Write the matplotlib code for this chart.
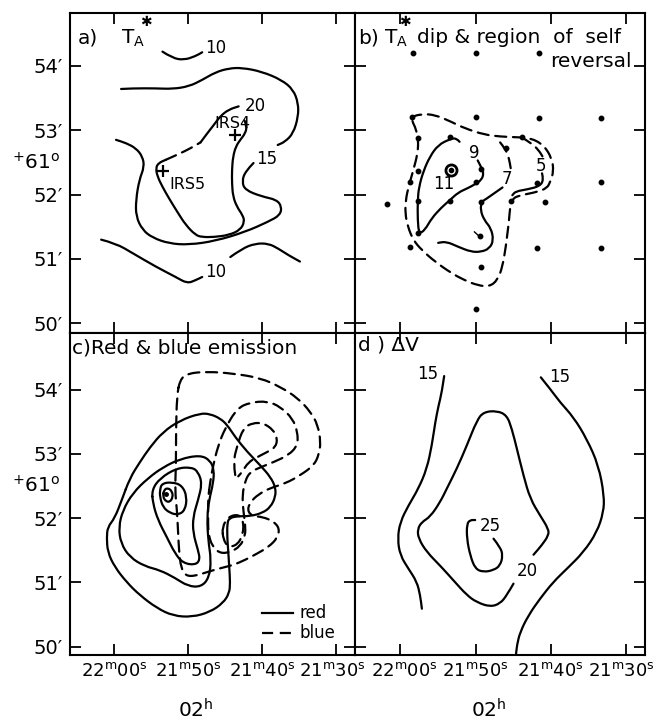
import matplotlib
matplotlib.use("Agg")
import matplotlib.pyplot as plt
from matplotlib.path import Path
from matplotlib.patches import PathPatch
from matplotlib.transforms import blended_transform_factory, ScaledTranslation

plt.rcParams['font.family'] = ['DejaVu Sans']
plt.rcParams['mathtext.fontset'] = 'dejavusans'

# Axes: RA in seconds after 02h21m (60 = 22m00s), Dec in arcmin after +61 deg
ra_ticks = [60, 50, 40, 30]
ra_labels = ["22$^{\\rm m}$00$^{\\rm s}$", "21$^{\\rm m}$50$^{\\rm s}$",
             "21$^{\\rm m}$40$^{\\rm s}$", "21$^{\\rm m}$30$^{\\rm s}$"]
dec_ticks = [50, 51, 52, 53, 54]
dec_labels = ["50\u2032", "51\u2032", "52\u2032", "53\u2032", "54\u2032"]

# ---------------- a) T_A* ----------------
a_10n_ra = [53.51, 52.17, 50.60, 49.04, 48.14]
a_10n_dec = [54.22, 54.12, 54.09, 54.15, 54.21]
a_15top_ra = [59.10, 57.54, 54.41, 52.17, 49.93, 48.14, 46.35, 44.56, 42.77, 40.09,
              37.40, 35.84, 35.17, 35.17, 35.84, 36.96, 37.94]
a_15top_dec = [53.64, 53.65, 53.65, 53.64, 53.68, 53.78, 53.90, 53.96, 53.97, 53.91,
               53.78, 53.63, 53.42, 53.21, 52.95, 52.82, 52.77]
a_15low_ra = [41.21, 42.33, 42.77, 42.33, 40.09, 38.08, 37.40, 37.63, 39.19, 42.33,
              46.35, 49.93, 52.62, 54.85, 56.20, 57.09, 57.09, 56.64, 55.97, 56.20,
              57.09, 58.43, 59.78]
a_15low_dec = [52.49, 52.36, 52.20, 52.07, 51.97, 51.92, 51.81, 51.68, 51.58, 51.42,
               51.28, 51.22, 51.24, 51.33, 51.45, 51.66, 51.92, 52.23, 52.43, 52.59,
               52.72, 52.80, 52.85]
a_20_ra = [42.42, 42.10, 42.33, 43.00, 43.58, 43.98, 44.12, 44.12, 43.98, 43.45,
           42.68, 42.42, 43.00, 44.56, 46.58, 48.14, 49.04, 50.38, 51.50, 52.62,
           53.51, 54.18, 54.41, 54.05, 53.06]
a_20_dec = [53.15, 53.06, 52.95, 52.85, 52.75, 52.59, 52.38, 52.18, 51.97, 51.81,
            51.68, 51.58, 51.45, 51.37, 51.34, 51.34, 51.37, 51.53, 51.73, 51.94,
            52.12, 52.28, 52.41, 52.49, 52.54]
a_20dash_ra = [53.06, 51.28, 49.71, 48.37]
a_20dash_dec = [52.54, 52.63, 52.72, 52.81]
a_20up_ra = [48.37, 47.47, 46.58, 45.68, 44.56, 43.22]
a_20up_dec = [52.81, 52.95, 53.08, 53.22, 53.32, 53.37]
a_10sw_ra = [61.79, 59.78, 57.54, 54.41, 51.72, 50.16, 49.04, 48.14]
a_10sw_dec = [51.30, 51.24, 51.09, 50.88, 50.72, 50.62, 50.67, 50.72]
a_10se_ra = [44.34, 42.77, 40.98, 39.19, 37.85, 36.51, 34.94]
a_10se_dec = [51.03, 51.16, 51.24, 51.24, 51.16, 51.06, 50.96]
a_levels = ["10", "10", "15", "20"]
a_level_ra = [46.35, 46.26, 39.42, 40.98]
a_level_dec = [54.27, 50.80, 52.56, 53.38]
irs_names = ["IRS4", "IRS5"]
irs_ra = [43.76, 53.38]
irs_dec = [52.93, 52.36]
irs_label_ra = [44.10, 50.16]
irs_label_dec = [53.10, 52.15]

# ---------------- b) T_A* dip & region of self reversal ----------------
b_dot_ra = [58.25, 49.93, 41.60, 58.47, 49.93, 41.60, 33.28, 57.59, 53.43, 43.79,
            45.98, 57.59, 49.27, 41.82, 58.69, 49.93, 33.28, 61.75, 57.59, 53.43,
            49.27, 45.33, 40.73, 57.59, 49.36, 58.69, 41.82, 33.28, 49.27, 49.93]
b_dot_dec = [54.20, 54.20, 54.20, 53.21, 53.21, 53.19, 53.19, 52.88, 52.89, 52.89,
             52.72, 52.37, 52.39, 52.18, 52.19, 52.20, 52.19, 51.86, 51.90, 51.90,
             51.89, 51.90, 51.89, 51.40, 51.35, 51.19, 51.17, 51.17, 50.88, 50.22]
b_peak_ra = [53.21]
b_peak_dec = [52.38]
b_rev_ra = [58.47, 57.15, 55.40, 53.21, 51.46, 48.83, 46.64, 44.45, 42.70, 40.95,
            39.85, 39.63, 40.07, 40.51, 41.82, 44.01, 45.11, 45.41, 45.55, 45.76,
            45.98, 46.42, 47.08, 48.17, 49.71, 51.46, 53.21, 55.40, 57.15, 58.25,
            58.99, 59.34, 59.26, 58.90, 58.25, 57.68, 57.59, 57.94, 58.38]
b_rev_dec = [53.21, 53.25, 53.24, 53.13, 53.03, 52.93, 52.90, 52.89, 52.88, 52.77,
             52.56, 52.36, 52.20, 52.10, 52.04, 51.99, 51.94, 51.81, 51.60, 51.40,
             51.19, 50.88, 50.67, 50.57, 50.59, 50.67, 50.78, 50.96, 51.14, 51.29,
             51.50, 51.71, 51.92, 52.12, 52.38, 52.64, 52.85, 53.03, 53.13]
b_5dash_ra = [43.92, 42.70, 41.60, 40.95]
b_5dash_dec = [52.89, 52.81, 52.69, 52.56]
b_5_ra = [41.17, 40.95, 41.47, 43.14, 44.67, 45.11]
b_5_dec = [52.33, 52.23, 52.13, 52.08, 52.05, 51.99]
b_7dash_ra = [46.73, 45.98, 45.55, 45.33]
b_7dash_dec = [52.81, 52.70, 52.56, 52.41]
b_7_ra = [46.42, 47.52, 48.61, 49.18, 49.36, 48.83, 47.95, 47.60, 48.17, 49.27,
          50.58, 52.33, 53.87, 54.96]
b_7_dec = [52.11, 52.02, 51.93, 51.89, 51.76, 51.60, 51.48, 51.29, 51.16, 51.11,
           51.11, 51.19, 51.27, 51.25]
b_9_ra = [52.12, 52.55, 53.43, 54.96, 56.06, 56.93, 57.50, 57.68, 57.68, 57.50,
          56.71, 55.84, 54.52, 53.43, 52.33, 51.02, 50.06, 49.18, 48.92, 49.18, 49.71]
b_9_dec = [52.82, 52.88, 52.86, 52.77, 52.59, 52.36, 52.12, 51.92, 51.60, 51.39,
           51.45, 51.63, 51.80, 51.91, 52.03, 52.10, 52.16, 52.23, 52.33, 52.41, 52.53]
b_tick_ra = [50.14, 49.49]
b_tick_dec = [51.42, 51.35]
b_levels = ["11", "9", "7", "5"]
b_level_ra = [54.17, 50.14, 45.85, 41.30]
b_level_dec = [52.16, 52.65, 52.24, 52.45]

# ---------------- c) Red & blue emission ----------------
c_r1_ra = [57.92, 56.57, 55.21, 53.45, 51.14, 48.43, 47.07, 45.71, 44.76, 43.68,
           42.05, 40.28, 38.92, 38.24, 38.24, 38.92, 40.01, 41.64, 43.41, 44.49,
           44.76, 44.76, 44.63, 44.49, 44.36, 44.49, 45.31, 47.07, 49.51, 52.09,
           54.26, 56.57, 58.33, 59.96, 60.91, 61.04, 60.91, 59.96, 59.01]
c_r1_dec = [52.62, 52.87, 53.10, 53.34, 53.52, 53.63, 53.62, 53.55, 53.45, 53.26,
            53.03, 52.82, 52.64, 52.48, 52.33, 52.17, 52.08, 52.03, 52.03, 52.00,
            51.92, 51.70, 51.50, 51.24, 50.99, 50.83, 50.68, 50.54, 50.46, 50.48,
            50.60, 50.80, 51.00, 51.24, 51.47, 51.70, 51.86, 52.00, 52.28]
c_r2_ra = [48.43, 47.07, 46.53, 46.66, 47.21, 47.48, 47.34, 46.93, 47.21, 48.29,
           50.05, 51.82, 53.85, 55.89, 57.92, 59.14, 59.42, 58.87, 57.52, 55.48,
           53.45, 51.14]
c_r2_dec = [52.98, 52.90, 52.75, 52.54, 52.28, 52.02, 51.66, 51.35, 51.07, 50.93,
            50.94, 51.07, 51.19, 51.25, 51.39, 51.61, 51.86, 52.12, 52.39, 52.62,
            52.79, 52.92]
c_r3_ra = [54.94, 53.85, 51.55, 49.51, 48.70, 48.15, 48.70, 49.38, 49.38, 48.70,
           48.43, 49.10, 50.73, 51.82, 52.90, 54.12, 54.80]
c_r3_dec = [52.44, 52.62, 52.78, 52.79, 52.72, 52.54, 52.28, 52.02, 51.77, 51.50,
            51.35, 51.27, 51.30, 51.45, 51.70, 51.97, 52.23]
c_r4_ra = [53.85, 53.58, 52.23, 50.87, 50.19, 50.46, 51.41, 52.50, 53.45, 53.85]
c_r4_dec = [52.44, 52.54, 52.56, 52.51, 52.33, 52.12, 52.05, 52.08, 52.17, 52.33]
c_r5_ra = [53.31, 52.77, 52.23, 52.09, 52.50, 53.04, 53.45]
c_r5_dec = [52.44, 52.47, 52.42, 52.33, 52.25, 52.26, 52.33]
c_peak_ra = [53.04]
c_peak_dec = [52.37]
c_b1_ra = [51.14, 50.19, 47.48, 43.95, 40.28, 37.56, 35.25, 33.48, 32.53, 32.12,
           32.39, 33.07, 34.84, 36.88, 38.92, 40.55, 41.64, 42.05, 41.37, 40.01,
           38.52, 37.70, 37.97, 39.19, 40.69, 42.32, 43.95, 45.71, 47.48, 49.10,
           50.33, 51.00, 51.28, 51.41, 51.55, 51.82, 51.68, 51.68, 51.55]
c_b1_dec = [54.15, 54.25, 54.28, 54.25, 54.18, 54.04, 53.87, 53.65, 53.45, 53.18,
            52.98, 52.82, 52.67, 52.54, 52.47, 52.37, 52.25, 52.12, 52.03, 52.02,
            51.95, 51.84, 51.69, 51.55, 51.45, 51.35, 51.27, 51.22, 51.16, 51.10,
            51.10, 51.22, 51.50, 51.81, 52.12, 52.44, 52.82, 53.37, 53.91]
c_b2_ra = [47.07, 46.66, 45.98, 45.04, 43.41, 41.64, 39.33, 37.56, 35.93, 35.25,
           35.25, 36.47, 38.52, 40.28, 41.64, 42.32, 42.73, 42.59, 42.32, 42.32,
           43.00, 44.36, 45.71, 46.80, 47.34, 47.34, 47.34]
c_b2_dec = [52.56, 52.82, 53.13, 53.40, 53.71, 53.80, 53.82, 53.73, 53.55, 53.34,
            53.13, 52.98, 52.87, 52.79, 52.72, 52.59, 52.36, 52.12, 51.89, 51.73,
            51.56, 51.47, 51.45, 51.56, 51.77, 52.05, 52.31]
c_b3_ra = [43.68, 43.95, 43.41, 42.59, 41.37, 39.88, 38.52, 37.97, 38.24, 39.33,
           40.69, 41.91, 42.73, 43.27]
c_b3_dec = [52.67, 52.87, 53.13, 53.40, 53.48, 53.48, 53.37, 53.24, 53.10, 53.03,
            52.95, 52.87, 52.72, 52.65]
c_b4_ra = [45.44, 44.63, 43.27, 42.59, 42.59, 43.41, 44.63, 45.31]
c_b4_dec = [51.86, 52.02, 52.06, 51.97, 51.75, 51.58, 51.55, 51.67]

# ---------------- d) Delta V ----------------
d_15w_ra = [54.16, 54.47, 54.91, 55.35, 55.80, 56.46, 57.57, 58.89, 60.00, 60.35,
            60.00, 58.89, 57.79, 57.35, 57.12]
d_15w_dec = [54.21, 53.96, 53.75, 53.49, 53.13, 52.77, 52.46, 52.20, 51.94, 51.68,
             51.42, 51.21, 51.01, 50.80, 50.59]
d_15e_ra = [41.33, 40.09, 38.76, 36.99, 35.22, 33.67, 32.92, 33.01, 33.89, 35.66,
            37.88, 39.65, 41.42, 42.96, 44.07, 44.51, 44.65]
d_15e_dec = [54.19, 54.01, 53.80, 53.57, 53.23, 52.82, 52.35, 52.09, 51.78, 51.47,
             51.21, 51.01, 50.75, 50.49, 50.23, 50.02, 49.84]
d_20_ra = [44.96, 45.84, 46.73, 48.05, 49.82, 51.15, 52.92, 54.69, 56.46, 57.57,
           57.70, 57.12, 56.02, 54.69, 53.81, 52.48, 51.15, 49.82, 48.94, 47.17,
           45.84, 45.18, 44.51, 43.63, 42.74, 41.42, 40.31, 40.31, 41.19, 42.30]
d_20_dec = [50.98, 50.80, 50.67, 50.62, 50.69, 50.80, 51.03, 51.26, 51.47, 51.68,
            51.83, 51.94, 52.02, 52.25, 52.46, 52.77, 53.13, 53.52, 53.65, 53.67,
            53.60, 53.39, 53.08, 52.66, 52.30, 52.04, 51.83, 51.73, 51.58, 51.43]
d_25_ra = [47.61, 46.73, 46.37, 46.73, 47.61, 48.94, 50.04, 50.71, 51.15, 51.15,
           50.71, 50.04]
d_25_dec = [51.68, 51.55, 51.42, 51.26, 51.19, 51.16, 51.21, 51.42, 51.68, 51.91,
            51.97, 51.97]
d_levels = ["15", "15", "20", "25"]
d_level_ra = [56.37, 38.76, 43.10, 48.05]
d_level_dec = [54.24, 54.19, 51.17, 51.88]

LW = 1.6
DASH = (0, (5, 3))


def smooth_path(ra, dec, closed=False):
    """Quadratic Bezier path using the points as control points."""
    pts = list(zip(ra, dec))
    n = len(pts)
    if closed:
        mids = [((pts[i][0] + pts[(i + 1) % n][0]) / 2,
                 (pts[i][1] + pts[(i + 1) % n][1]) / 2) for i in range(n)]
        verts = [mids[-1]]
        codes = [Path.MOVETO]
        for i in range(n):
            verts += [pts[i], mids[i]]
            codes += [Path.CURVE3, Path.CURVE3]
        return Path(verts, codes)
    verts = [pts[0]]
    codes = [Path.MOVETO]
    for i in range(1, n - 1):
        mid = ((pts[i][0] + pts[i + 1][0]) / 2, (pts[i][1] + pts[i + 1][1]) / 2)
        verts += [pts[i], mid]
        codes += [Path.CURVE3, Path.CURVE3]
    verts.append(pts[-1])
    codes.append(Path.LINETO)
    return Path(verts, codes)


def curve(ax, ra, dec, closed=False, dashed=False):
    patch = PathPatch(smooth_path(ra, dec, closed), fill=False, lw=LW,
                      ec='black', ls=DASH if dashed else '-',
                      capstyle='round', joinstyle='round')
    ax.add_patch(patch)


def nudge(label, dx_px):
    label.set_transform(label.get_transform() +
                        ScaledTranslation(dx_px / 100, 0, fig.dpi_scale_trans))


W, H = 656, 728
fig = plt.figure(figsize=(W / 100, H / 100), dpi=100)
ax_a = fig.add_axes([70 / W, (H - 333) / H, 285 / W, 320 / H])
ax_b = fig.add_axes([355 / W, (H - 333) / H, 290 / W, 320 / H])
ax_c = fig.add_axes([70 / W, (H - 655) / H, 285 / W, 322 / H])
ax_d = fig.add_axes([355 / W, (H - 655) / H, 290 / W, 322 / H])

for ax in (ax_a, ax_b, ax_c, ax_d):
    ax.set_xlim(66.0, 27.5)
    ax.set_xticks(ra_ticks)
    ax.set_yticks(dec_ticks)
    ax.tick_params(direction='in', length=8, width=1.3, top=True, right=True,
                   labelsize=14, pad=5)
    for s in ax.spines.values():
        s.set_linewidth(1.5)
for ax in (ax_a, ax_b):
    ax.set_ylim(49.85, 54.82)
    ax.tick_params(labelbottom=False)
for ax in (ax_c, ax_d):
    ax.set_ylim(49.87, 54.88)
    ax.set_xticklabels(ra_labels, fontsize=13)
    ax.set_xlabel("02$^{\\rm h}$", fontsize=14.5, labelpad=8)
for ax in (ax_a, ax_c):
    ax.set_yticklabels(dec_labels)
    tr = blended_transform_factory(ax.transAxes, ax.transData)
    ax.text(-0.205, 52.5, "$^{+}$61$^{\\rm o}$", transform=tr, fontsize=14.5,
            ha='left', va='center')
for ax in (ax_b, ax_d):
    ax.tick_params(labelleft=False)
ax_c.xaxis.set_label_coords(0.44, -0.135)
ax_d.xaxis.set_label_coords(0.46, -0.135)
# keep adjoining RA labels apart and the last one inside the figure
nudge(ax_c.xaxis.get_major_ticks()[-1].label1, -4)
nudge(ax_d.xaxis.get_major_ticks()[0].label1, 4)
nudge(ax_d.xaxis.get_major_ticks()[-1].label1, -5)

# ----- panel a -----
ax = ax_a
curve(ax, a_10n_ra, a_10n_dec)
curve(ax, a_15top_ra, a_15top_dec)
curve(ax, a_15low_ra, a_15low_dec)
curve(ax, a_20_ra, a_20_dec)
curve(ax, a_20dash_ra, a_20dash_dec, dashed=True)
curve(ax, a_20up_ra, a_20up_dec)
curve(ax, a_10sw_ra, a_10sw_dec)
curve(ax, a_10se_ra, a_10se_dec)
for lab, x, y in zip(a_levels, a_level_ra, a_level_dec):
    ax.text(x, y, lab, fontsize=12, ha='center', va='center')
ax.plot(irs_ra, irs_dec, ls='none', marker='+', ms=8, mew=1.6, color='black')
for lab, x, y in zip(irs_names, irs_label_ra, irs_label_dec):
    ax.text(x, y, lab, fontsize=11.5, ha='center', va='center')
ax.text(0.028, 0.905, "a)", transform=ax.transAxes, fontsize=14.5, ha='left')
ax.text(0.18, 0.905, "T$_{\\rm A}$", transform=ax.transAxes, fontsize=14.5, ha='left')
ax.text(0.268, 0.972, "\u2731", transform=ax.transAxes, fontsize=10, ha='center',
        va='center')

# ----- panel b -----
ax = ax_b
ax.plot(b_dot_ra, b_dot_dec, ls='none', marker='o', ms=3.2, color='black')
ax.plot(b_peak_ra, b_peak_dec, ls='none', marker='o', ms=8, mfc='white',
        mec='black', mew=2)
ax.plot(b_peak_ra, b_peak_dec, ls='none', marker='o', ms=3, color='black')
curve(ax, b_rev_ra, b_rev_dec, closed=True, dashed=True)
curve(ax, b_5dash_ra, b_5dash_dec, dashed=True)
curve(ax, b_5_ra, b_5_dec)
curve(ax, b_7dash_ra, b_7dash_dec, dashed=True)
curve(ax, b_7_ra, b_7_dec)
curve(ax, b_9_ra, b_9_dec)
ax.plot(b_tick_ra, b_tick_dec, color='black', lw=1)
for lab, x, y in zip(b_levels, b_level_ra, b_level_dec):
    ax.text(x, y, lab, fontsize=12, ha='center', va='center')
ax.text(0.012, 0.905, "b)", transform=ax.transAxes, fontsize=14.5, ha='left')
ax.text(0.10, 0.905, "T$_{\\rm A}$", transform=ax.transAxes, fontsize=14.5, ha='left')
ax.text(0.172, 0.972, "\u2731", transform=ax.transAxes, fontsize=10, ha='center',
        va='center')
ax.text(0.215, 0.905, "dip & region  of  self", transform=ax.transAxes,
        fontsize=14.5, ha='left')
ax.text(0.955, 0.83, "reversal", transform=ax.transAxes, fontsize=14.5, ha='right')

# ----- panel c -----
ax = ax_c
curve(ax, c_r1_ra, c_r1_dec, closed=True)
curve(ax, c_r2_ra, c_r2_dec, closed=True)
curve(ax, c_r3_ra, c_r3_dec, closed=True)
curve(ax, c_r4_ra, c_r4_dec, closed=True)
curve(ax, c_r5_ra, c_r5_dec, closed=True)
ax.plot(c_peak_ra, c_peak_dec, ls='none', marker='o', ms=2.5, color='black')
curve(ax, c_b1_ra, c_b1_dec, closed=True, dashed=True)
curve(ax, c_b2_ra, c_b2_dec, closed=True, dashed=True)
curve(ax, c_b3_ra, c_b3_dec, dashed=True)
curve(ax, c_b4_ra, c_b4_dec, closed=True, dashed=True)
ax.plot([0.674, 0.782], [0.130, 0.130], transform=ax.transAxes, color='black', lw=LW)
ax.plot([0.674, 0.782], [0.068, 0.068], transform=ax.transAxes, color='black', lw=LW,
        ls=DASH)
ax.text(0.805, 0.130, "red", transform=ax.transAxes, fontsize=12, va='center')
ax.text(0.805, 0.068, "blue", transform=ax.transAxes, fontsize=12, va='center')
ax.text(0.007, 0.935, "c)Red & blue emission", transform=ax.transAxes,
        fontsize=14.5, ha='left')

# ----- panel d -----
ax = ax_d
curve(ax, d_15w_ra, d_15w_dec)
curve(ax, d_15e_ra, d_15e_dec)
curve(ax, d_20_ra, d_20_dec)
curve(ax, d_25_ra, d_25_dec)
for lab, x, y in zip(d_levels, d_level_ra, d_level_dec):
    ax.text(x, y, lab, fontsize=12, ha='center', va='center')
ax.text(0.012, 0.947, "d ) \u0394V", transform=ax.transAxes, fontsize=14.5, ha='left')

fig.savefig("out.png", dpi=100)
